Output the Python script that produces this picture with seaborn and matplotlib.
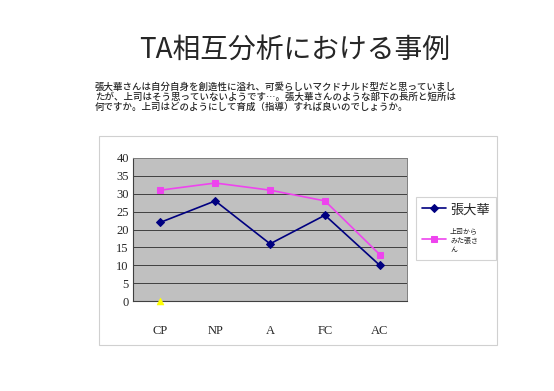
import numpy as np
import pandas as pd
import matplotlib
matplotlib.use("Agg")
import matplotlib.pyplot as plt
import seaborn as sns
from matplotlib.patches import Rectangle

sns.set_style("white")
plt.rcParams['font.family'] = ['Noto Sans CJK JP', 'DejaVu Sans']

categories = ["CP", "NP", "A", "FC", "AC"]
zhang = [22, 28, 16, 24, 10]
boss_view = [31, 33, 31, 28, 13]
extra_cat = ["CP"]
extra_val = [0]

title = "TA相互分析における事例"
body = ("張大華さんは自分自身を創造性に溢れ、可愛らしいマクドナルド型だと思っていまし\n"
        "たが、上司はそう思っていないようです…。張大華さんのような部下の長所と短所は\n"
        "何ですか。上司はどのようにして育成（指導）すれば良いのでしょうか。")
label_zhang = "張大華"
label_boss = "上司から\nみた張さ\nん"

pos = {c: i for i, c in enumerate(categories)}
df = pd.DataFrame({"x": [pos[c] for c in categories], "張大華": zhang, "上司": boss_view})
df_extra = pd.DataFrame({"x": [pos[c] for c in extra_cat], "v": extra_val})

fig = plt.figure(figsize=(5.54, 3.91), dpi=100)
fig.patches.append(Rectangle((0.179, 0.118), 0.718, 0.535, transform=fig.transFigure,
                             fill=False, edgecolor="#d0d0d0", linewidth=0.8))

ax = fig.add_axes([0.240, 0.230, 0.495, 0.366])
ax.set_facecolor("#c0c0c0")

sns.lineplot(data=df, x="x", y="張大華", ax=ax, color="#000080", marker="D",
             markersize=4, linewidth=1.2, markeredgecolor="#000080", label=label_zhang)
sns.lineplot(data=df, x="x", y="上司", ax=ax, color="#ee44ee", marker="s",
             markersize=5, linewidth=1.2, markeredgecolor="#ee44ee", label=label_boss)
sns.scatterplot(data=df_extra, x="x", y="v", ax=ax, color="#ffff00", marker="^",
                s=25, edgecolor="#ffff00", zorder=5, clip_on=False, legend=False)

ax.set_xlim(-0.5, len(categories) - 0.5)
ax.set_ylim(0, 40)
ax.set_yticks(range(0, 41, 5))
ax.yaxis.grid(True, color="#404040", linewidth=0.7)
ax.set_axisbelow(True)
ax.set_xticks(range(len(categories)))
ax.set_xticklabels(categories, family="Liberation Serif", fontsize=9)
ax.set_xticks(np.arange(0.5, len(categories) - 0.5), minor=True)
ax.tick_params(axis="x", which="major", length=0, pad=17)
ax.tick_params(axis="x", which="minor", length=3, direction="in", color="#404040")
ax.tick_params(axis="y", length=0, pad=3)
for t in ax.get_yticklabels():
    t.set_family("Liberation Serif")
    t.set_fontsize(9)
ax.set_xlabel("")
ax.set_ylabel("")
for s in ["top", "right"]:
    ax.spines[s].set_color("#808080")
    ax.spines[s].set_linewidth(0.7)
for s in ["left", "bottom"]:
    ax.spines[s].set_color("#404040")
    ax.spines[s].set_linewidth(0.8)

leg = ax.legend(loc="upper left", bbox_to_anchor=(0.751, 0.496), bbox_transform=fig.transFigure,
                frameon=True, fancybox=False, edgecolor="#c8c8c8", handlelength=1.7,
                borderpad=0.45, labelspacing=0.8, handletextpad=0.3, borderaxespad=0)
leg.get_frame().set_linewidth(0.8)
texts = leg.get_texts()
texts[0].set_family(["Noto Sans CJK TC", "DejaVu Sans"])
texts[0].set_fontsize(9.5)
texts[1].set_fontsize(5)

fig.text(0.531, 0.872, title, ha="center", va="center", fontsize=20)
fig.text(0.171, 0.79, body, ha="left", va="top", fontsize=6.8, linespacing=1.1,
         fontweight="medium")

fig.savefig("out.png", dpi=100)
